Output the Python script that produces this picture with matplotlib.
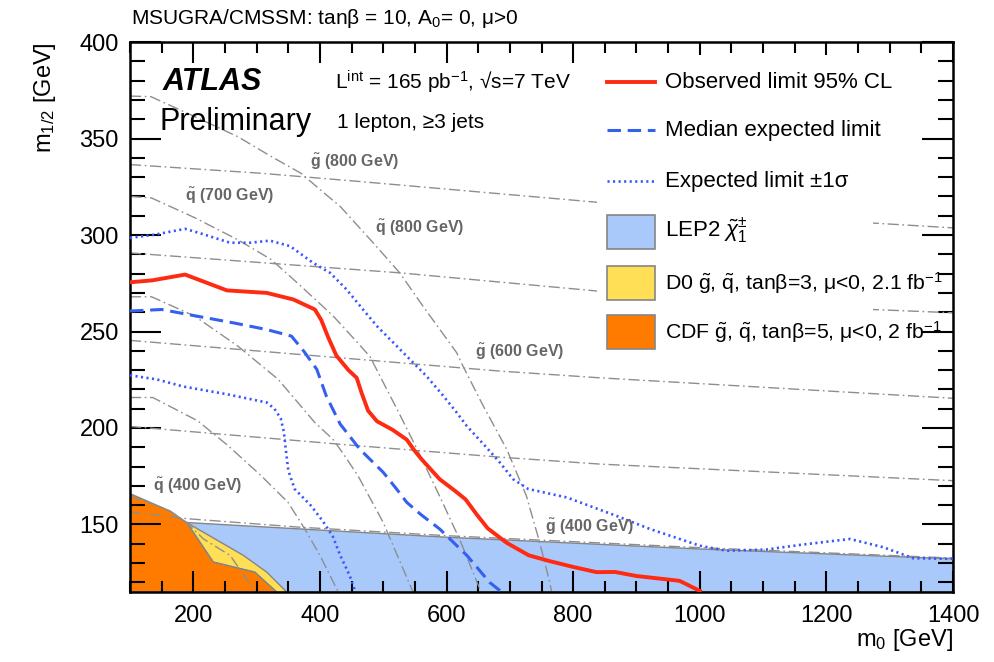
import matplotlib
matplotlib.use("Agg")
import matplotlib.pyplot as plt
from matplotlib.patches import Polygon, Rectangle
from matplotlib.ticker import MultipleLocator

plt.rcParams['font.family'] = ['Liberation Sans', 'DejaVu Sans']
plt.rcParams['mathtext.fontset'] = 'custom'
plt.rcParams['mathtext.rm'] = 'Liberation Sans'
plt.rcParams['mathtext.it'] = 'Liberation Sans:italic'
plt.rcParams['mathtext.bf'] = 'Liberation Sans:bold'

# ---- exclusion limits (m0, m1/2) in GeV ----
obs_m0 = [100, 135, 187, 253, 316, 358, 392, 402, 413, 426, 445, 458, 466, 476, 490, 515,
          537, 550, 560, 589, 615, 630, 648, 665, 695, 730, 763, 800, 837, 866, 900, 968, 1000]
obs_m12 = [275.5, 276.5, 279.5, 271.3, 270, 266.6, 261.4, 256, 247, 237.5, 230, 226, 218, 209,
           203.5, 199, 194, 188, 184, 173.5, 167, 163, 155, 148, 140.5, 134, 131, 128, 125.3,
           125.4, 123.3, 120.8, 115.6]

exp_m0 = [100, 150, 205, 263, 316, 355, 374, 395, 410, 432, 463, 500, 521, 537, 560, 589,
          610, 632, 668, 687]
exp_m12 = [260.6, 261.4, 258, 254.5, 251, 247.6, 240, 230.4, 216.6, 202, 189, 177, 168.4,
           161.5, 155, 147.7, 141, 134, 120, 115]

up_m0 = [100, 139, 187, 210, 258, 290, 321, 353, 389, 416, 442, 468, 490, 516, 542, 568, 595,
         616, 632, 660, 684, 705, 729, 790, 868, 921, 1000, 1042, 1105, 1158, 1237, 1290, 1337, 1400]
up_m12 = [298.5, 300.2, 303.2, 301, 296, 296, 297.1, 294.2, 285.6, 280.4, 271.8, 261.4, 252.8,
          244.2, 235.6, 227, 216.6, 208, 201, 191, 182.2, 173.5, 168.4, 164, 154.5, 147.7, 139,
          136.4, 137, 139.4, 142.5, 138.2, 132.5, 132.2]

dn_m0 = [100, 142, 184, 253, 316, 328, 338, 343, 346, 350, 360, 386, 405, 420, 432, 447, 456]
dn_m12 = [227.3, 225.2, 221.5, 217.5, 213.2, 210, 205, 198, 189, 178, 168.4, 159.7, 151.5,
          144, 134, 123.5, 115]

# ---- previous exclusions ----
lep_m0 = [100, 189.5, 600, 1000, 1400, 1400, 100]
lep_m12 = [152.5, 151, 143.4, 137.3, 132.2, 115, 115]

d0_m0 = [189.5, 279, 316, 347.5, 331.6, 297, 231.5]
d0_m12 = [151, 134, 125.3, 115, 115, 125.3, 130.5]

cdf_m0 = [100, 163, 189.5, 231.5, 297, 331.6, 100]
cdf_m12 = [166, 157, 151, 130.5, 125.3, 115, 115]

# ---- squark iso-mass contours ----
sq400_m0 = [100, 140, 163, 189.5, 216, 258, 295, 300]
sq400_m12 = [164.5, 160, 157, 151, 142.5, 134, 116.6, 114]
sq500_m0 = [100, 136, 207, 255, 307, 349.5, 376, 400, 429]
sq500_m12 = [215.8, 215.8, 203.7, 190.8, 175.3, 161.5, 147.7, 134, 115]
sq600_m0 = [100, 134, 202, 270.5, 334, 392, 421, 439, 460, 500, 547]
sq600_m12 = [268, 268, 258, 242.4, 225.2, 202.8, 194, 185.6, 175.3, 151, 115]
sq700_m0 = [100, 134, 202, 270, 323, 370, 421, 460, 479, 526, 558, 590, 621, 652, 655]
sq700_m12 = [320, 319.2, 309, 297.6, 287.3, 273.5, 258, 244, 237, 207, 186, 164, 142, 117, 115]
sq800_m0 = [100, 133, 202, 270, 323, 370, 413, 432, 484, 526, 563, 616, 626, 658, 695, 726, 747, 763, 766]
sq800_m12 = [372, 371.7, 361.4, 351, 340.7, 332, 320, 314.8, 296, 280.4, 263, 239, 232, 211.4,
             189, 164.9, 140.8, 120, 115]

# ---- gluino iso-mass contours ----
gl400_m0 = [100, 190, 368, 600, 1000, 1400]
gl400_m12 = [156.5, 153, 148.6, 144.2, 138, 132.6]
gl500_m0 = [100, 460, 684, 842, 1400]
gl500_m12 = [200.8, 190.8, 184.9, 181.3, 172.7]
gl600_m0 = [100, 460, 684, 842, 1400]
gl600_m12 = [245.4, 235.6, 229.5, 226, 215.4]
gl700_m0 = [100, 460, 526, 837, 1273, 1400]
gl700_m12 = [290.7, 282, 280.4, 271, 261.4, 259.7]
gl800_m0 = [100, 307, 460, 837, 1273, 1400]
gl800_m12 = [336.5, 332, 327.8, 317, 306.2, 303.7]

fig = plt.figure(figsize=(9.94, 6.62), dpi=100)
ax = fig.add_axes([0.1308, 0.1057, 0.828, 0.8308])
ax.set_xlim(100, 1400)
ax.set_ylim(115, 400)

edge = '#858585'
ax.add_patch(Polygon(list(zip(lep_m0, lep_m12)), closed=True, fc='#a9c9fb', ec=edge, lw=1.0, zorder=1))
ax.add_patch(Polygon(list(zip(d0_m0, d0_m12)), closed=True, fc='#fedf55', ec=edge, lw=1.0, zorder=1.1))
ax.add_patch(Polygon(list(zip(cdf_m0, cdf_m12)), closed=True, fc='#ff7b00', ec=edge, lw=1.0, zorder=1.2))

grey = '#8e8e8e'
dashdot = (0, (8, 2.6, 1.2, 2.6))
for xs, ys in [(sq400_m0, sq400_m12), (sq500_m0, sq500_m12), (sq600_m0, sq600_m12),
               (sq700_m0, sq700_m12), (sq800_m0, sq800_m12),
               (gl400_m0, gl400_m12), (gl500_m0, gl500_m12), (gl600_m0, gl600_m12),
               (gl700_m0, gl700_m12), (gl800_m0, gl800_m12)]:
    ax.plot(xs, ys, color=grey, lw=1.0, ls=dashdot, zorder=2)

# white backing of the legend block
ax.add_patch(Rectangle((0.567, 0.431), 0.336, 0.545, transform=ax.transAxes,
                       fc='white', ec='none', zorder=3))

red = '#ff2a12'
blue = '#3460f0'
dot_blue = '#3a55ff'
dotted = (0, (0.8, 1.3))
dashed = (0, (4.4, 2.2))
ax.plot(up_m0, up_m12, color=dot_blue, lw=1.9, ls=dotted, zorder=4)
ax.plot(dn_m0, dn_m12, color=dot_blue, lw=1.9, ls=dotted, zorder=4)
ax.plot(exp_m0, exp_m12, color=blue, lw=2.2, ls=dashed, zorder=4)
ax.plot(obs_m0, obs_m12, color=red, lw=2.8, zorder=4.5, solid_joinstyle='round')

# contour labels
lab_kw = dict(color='#666666', fontsize=11.5, fontweight='bold', ha='center', va='center', zorder=5)
ax.text(455, 338, r'$\tilde{\mathbf{g}}$ (800 GeV)', **lab_kw)
ax.text(258, 320, r'$\tilde{\mathbf{q}}$ (700 GeV)', **lab_kw)
ax.text(558, 303.8, r'$\tilde{\mathbf{q}}$ (800 GeV)', **lab_kw)
ax.text(716, 239.2, r'$\tilde{\mathbf{g}}$ (600 GeV)', **lab_kw)
ax.text(206, 170, r'$\tilde{\mathbf{q}}$ (400 GeV)', **lab_kw)
ax.text(826, 148.7, r'$\tilde{\mathbf{g}}$ (400 GeV)', **lab_kw)

# axes styling
for s in ax.spines.values():
    s.set_linewidth(1.8)
ax.xaxis.set_major_locator(MultipleLocator(200))
ax.xaxis.set_minor_locator(MultipleLocator(50))
ax.yaxis.set_major_locator(MultipleLocator(50))
ax.yaxis.set_minor_locator(MultipleLocator(10))
ax.tick_params(which='both', direction='in', top=True, right=True, width=1.5, labelsize=17)
ax.tick_params(axis='x', which='major', length=15, pad=9)
ax.tick_params(axis='x', which='minor', length=8)
ax.tick_params(axis='y', which='major', length=22, pad=8)
ax.tick_params(axis='y', which='minor', length=11)

ax.set_xlabel(r'm$_0$ [GeV]', fontsize=17, loc='right')
ax.xaxis.set_label_coords(1.0, -0.064)
ax.set_ylabel(r'm$_{1/2}$ [GeV]', fontsize=17, loc='top')
ax.yaxis.set_label_coords(-0.088, 1.0)

# header and annotations
fig.text(0.1318, 0.972, r'MSUGRA/CMSSM: tanβ = 10, A$_0$= 0, μ>0', fontsize=15,
         ha='left', va='center')
ax.text(0.040, 0.927, 'ATLAS', transform=ax.transAxes, fontsize=22, fontweight='bold',
        fontstyle='italic', va='center', ha='left', zorder=5)
ax.text(0.036, 0.855, 'Preliminary', transform=ax.transAxes, fontsize=22,
        va='center', ha='left', zorder=5)
ax.text(0.249, 0.927, r'L$^{\rm int}$ = 165 pb$^{-1}$, √s=7 TeV', transform=ax.transAxes,
        fontsize=15, va='center', ha='left', zorder=5)
ax.text(0.251, 0.853, '1 lepton, ≥3 jets', transform=ax.transAxes, fontsize=15,
        va='center', ha='left', zorder=5)

# legend
hx0, hx1, tx = 0.5796, 0.638, 0.650
rows = [0.927, 0.840, 0.747, 0.655, 0.562, 0.473]
ax.plot([hx0, hx1], [rows[0]] * 2, transform=ax.transAxes, color=red, lw=2.8, zorder=6)
ax.plot([hx0, hx1], [rows[1]] * 2, transform=ax.transAxes, color=blue, lw=2.2,
        ls=dashed, zorder=6)
ax.plot([hx0, hx1], [rows[2]] * 2, transform=ax.transAxes, color=dot_blue, lw=1.9,
        ls=dotted, zorder=6)
for r, fc in zip(rows[3:], ['#a9c9fb', '#fedf55', '#ff7b00']):
    ax.add_patch(Rectangle((hx0, r - 0.031), hx1 - hx0, 0.062, transform=ax.transAxes,
                           fc=fc, ec=edge, lw=1.2, zorder=6))
leg_texts = ['Observed limit 95% CL',
             'Median expected limit',
             'Expected limit ±1σ',
             r'LEP2 $\tilde{\chi}_1^{\pm}$',
             r'D0 $\tilde{\rm g}$, $\tilde{\rm q}$, tanβ=3, μ<0, 2.1 fb$^{-1}$',
             r'CDF $\tilde{\rm g}$, $\tilde{\rm q}$, tanβ=5, μ<0, 2 fb$^{-1}$']
leg_sizes = [16, 16, 16, 16, 15.3, 15.3]
for r, t, fs in zip(rows, leg_texts, leg_sizes):
    ax.text(tx, r, t, transform=ax.transAxes, fontsize=fs, va='center', ha='left', zorder=6)

fig.savefig('out.png', dpi=100, facecolor='white')
